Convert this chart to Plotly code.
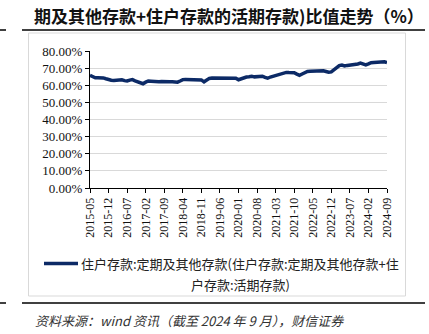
import plotly.graph_objects as go

# Monthly ratio of household time & other deposits to (time & other + demand deposits), %
start_year, start_month = 2015, 5
ratio_pct = [
    65.8, 64.8, 64.4, 64.4, 64.5, 64.3, 63.8, 63.2, 62.9, 62.8,
    63.1, 63.4, 63.2, 62.7, 62.5, 63.0, 63.3, 62.6, 62.0, 61.5,
    60.9, 61.8, 62.5, 62.4, 62.2, 62.3, 62.1, 62.2, 62.0, 62.2,
    62.1, 62.0, 61.9, 61.8, 62.5, 63.3, 63.4, 63.3, 63.4, 63.3,
    63.4, 63.3, 63.1, 62.0, 62.8, 64.0, 64.2, 64.2, 64.1, 64.2,
    64.2, 64.1, 64.2, 64.2, 64.1, 64.1, 63.2, 63.8, 64.5, 64.8,
    65.0, 65.3, 64.9, 65.2, 65.0, 65.3, 64.6, 64.1, 64.8, 65.2,
    65.8, 66.4, 66.7, 67.2, 67.5, 67.4, 67.6, 67.3, 66.5, 65.8,
    66.6, 67.6, 68.1, 68.2, 68.3, 68.5, 68.3, 68.6, 68.4, 68.0,
    67.6, 67.8, 69.0, 70.2, 71.5, 71.8, 71.3, 71.6, 71.8, 72.0,
    71.9, 72.4, 72.9, 72.3, 71.9, 72.5, 73.2, 73.3, 73.3, 73.6,
    73.8, 73.7, 73.2,
]

months = []
y, m = start_year, start_month
for _ in ratio_pct:
    months.append(f"{y}-{m:02d}")
    m += 1
    if m > 12:
        y, m = y + 1, 1

tick_labels = months[::7]
y_ticks = [0, 10, 20, 30, 40, 50, 60, 70, 80]

title_text = "期及其他存款+住户存款的活期存款)比值走势（%）"
series_name = "住户存款:定期及其他存款(住户存款:定期及其他存款+住户存款:活期存款)"
legend_line1 = "住户存款:定期及其他存款(住户存款:定期及其他存款+住"
legend_line2 = "户存款:活期存款)"
source_text = "资料来源：wind 资讯（截至 2024 年 9 月），财信证券"

W, H = 429, 334
L, R, T, B = 90, 387, 51, 188   # plot area in pixels


def px(x):
    return (x - L) / (R - L)


def py(y_):
    return (B - y_) / (B - T)


LINE_COLOR = "#0c2a66"
SERIF = "Liberation Serif"
CJK = "Noto Sans CJK SC"

fig = go.Figure()
fig.add_trace(go.Scatter(
    x=months, y=[v / 100 for v in ratio_pct], mode="lines",
    line=dict(color=LINE_COLOR, width=3.5), name=series_name,
    showlegend=False,
))

fig.update_layout(
    width=W, height=H, autosize=False,
    margin=dict(l=L, r=W - R, t=T, b=H - B),
    paper_bgcolor="white", plot_bgcolor="white",
    xaxis=dict(
        type="category", range=[0, len(months) - 1],
        tickmode="array", tickvals=tick_labels, ticktext=tick_labels,
        tickangle=-90, tickfont=dict(family=SERIF, size=12, color="#111"),
        showline=True, linecolor="black", linewidth=1,
        ticks="outside", ticklen=4, tickcolor="black",
        showgrid=False, zeroline=False,
    ),
    yaxis=dict(
        range=[0, 0.8], tickmode="array",
        tickvals=[t / 100 for t in y_ticks],
        ticktext=[f"{t:.2f}%" for t in y_ticks],
        tickfont=dict(family=SERIF, size=13, color="#111"),
        showline=True, linecolor="black", linewidth=1,
        ticks="outside", ticklen=4, tickcolor="black",
        showgrid=True, gridcolor="#d9d9d9", gridwidth=1,
        zeroline=False,
    ),
)

shapes = [
    # outer chart frame
    dict(type="rect", xref="paper", yref="paper",
         x0=px(28.5), x1=px(405.5), y0=py(33), y1=py(296),
         line=dict(color="#d9d9d9", width=1)),
    # title rule and source rule
    dict(type="line", xref="paper", yref="paper",
         x0=px(22), x1=px(425), y0=py(30), y1=py(30),
         line=dict(color="black", width=1.5)),
    dict(type="line", xref="paper", yref="paper",
         x0=px(0), x1=px(6), y0=py(30), y1=py(30),
         line=dict(color="black", width=1.5)),
    dict(type="line", xref="paper", yref="paper",
         x0=px(22), x1=px(425), y0=py(303), y1=py(303),
         line=dict(color="black", width=1.5)),
    dict(type="line", xref="paper", yref="paper",
         x0=px(0), x1=px(6), y0=py(303), y1=py(303),
         line=dict(color="black", width=1.5)),
    # legend swatch
    dict(type="line", xref="paper", yref="paper",
         x0=px(44), x1=px(78), y0=py(263.5), y1=py(263.5),
         line=dict(color=LINE_COLOR, width=3.5)),
]
fig.update_layout(shapes=shapes)

fig.add_annotation(
    text=f"<b>{title_text}</b>", xref="paper", yref="paper",
    x=px(32), y=py(15), xanchor="left", yanchor="middle",
    showarrow=False, font=dict(family=CJK, size=17, color="#111"),
)
fig.add_annotation(
    text=legend_line1, xref="paper", yref="paper",
    x=px(79), y=py(263.5), xanchor="left", yanchor="middle",
    showarrow=False, font=dict(family=CJK, size=13, color="#222"),
)
fig.add_annotation(
    text=legend_line2, xref="paper", yref="paper",
    x=px(240), y=py(284), xanchor="center", yanchor="middle",
    showarrow=False, font=dict(family=CJK, size=13, color="#222"),
)
fig.add_annotation(
    text=f"<i>{source_text}</i>", xref="paper", yref="paper",
    x=px(33), y=py(320), xanchor="left", yanchor="middle",
    showarrow=False, font=dict(family=CJK, size=13, color="#333"),
)

fig.write_html("out.html")
